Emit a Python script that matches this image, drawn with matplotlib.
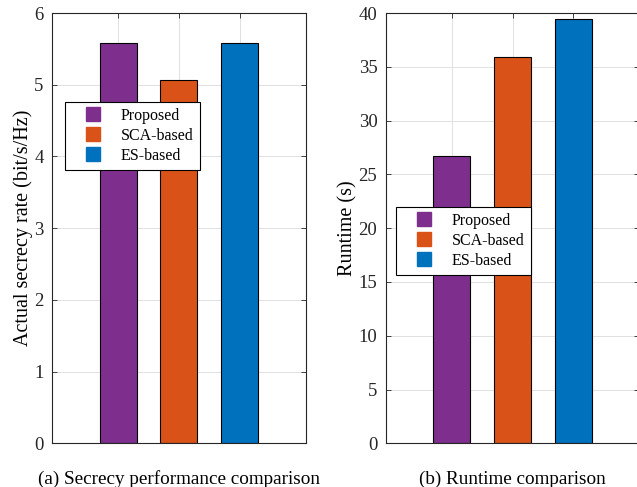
import matplotlib.pyplot as plt
from matplotlib.lines import Line2D

plt.rcParams['font.family'] = ['Liberation Serif', 'DejaVu Serif']

# Data
methods = ['Proposed', 'SCA-based', 'ES-based']
colors = ['#7E2F8E', '#D95319', '#0072BD']
secrecy_rate = [5.58, 5.06, 5.58]
runtime = [26.7, 35.9, 39.4]
positions = [1, 2, 3]

fig = plt.figure(figsize=(6.37, 4.87), dpi=100)
ax1 = fig.add_axes([0.0816, 0.0897, 0.3983, 0.8836])
ax2 = fig.add_axes([0.6055, 0.0897, 0.3983, 0.8836])

axis_color = '#262626'


def style_axes(ax, ylim, yticks, ylabel):
    ax.set_xlim(-0.09, 4.09)
    ax.set_ylim(*ylim)
    ax.set_xticks(positions)
    ax.set_xticklabels([])
    ax.set_yticks(yticks)
    ax.tick_params(direction='in', length=3.5, width=0.6, colors=axis_color,
                   top=True, right=True, labelsize=13.5, pad=6)
    ax.grid(True, color='#dcdcdc', linewidth=0.6)
    ax.set_axisbelow(True)
    for sp in ax.spines.values():
        sp.set_color(axis_color)
        sp.set_linewidth(0.8)
    ax.set_ylabel(ylabel, fontsize=14.5, labelpad=1)


def add_legend(ax, anchor):
    handles = [Line2D([], [], linestyle='none', marker='s', markersize=9.5,
                      markerfacecolor=c, markeredgecolor=c) for c in colors]
    leg = ax.legend(handles, methods, loc='upper left', bbox_to_anchor=anchor,
                    borderaxespad=0, fontsize=11.5, frameon=True, fancybox=False,
                    framealpha=1, edgecolor='black', handlelength=2.75,
                    handletextpad=0.35, labelspacing=0.25, borderpad=0.4)
    leg.get_frame().set_linewidth(0.8)


style_axes(ax1, (0, 6), range(0, 7), 'Actual secrecy rate (bit/s/Hz)')
ax1.bar(positions, secrecy_rate, width=0.61, color=colors,
        edgecolor='black', linewidth=0.8, zorder=2)
add_legend(ax1, (0.051, 0.794))

style_axes(ax2, (0, 40), range(0, 41, 5), 'Runtime (s)')
ax2.bar(positions, runtime, width=0.61, color=colors,
        edgecolor='black', linewidth=0.8, zorder=2)
add_legend(ax2, (0.039, 0.55))

fig.text(0.0816 + 0.3983 / 2, 0.0164, '(a) Secrecy performance comparison',
         ha='center', va='center', fontsize=13.8)
fig.text(0.6055 + 0.3983 / 2, 0.0164, '(b) Runtime comparison',
         ha='center', va='center', fontsize=13.8)

fig.savefig('out.png', dpi=100)
